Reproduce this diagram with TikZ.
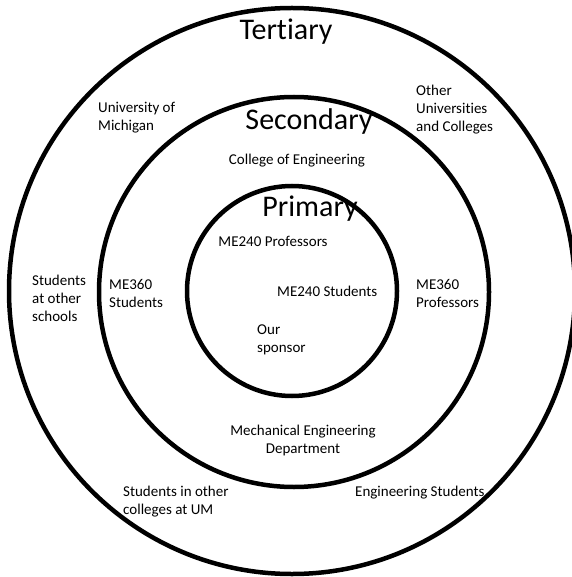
\documentclass[tikz,border=0pt]{standalone}
\usepackage{fontspec}
\setmainfont[Ligatures=NoCommon]{Carlito}
\begin{document}
\begin{tikzpicture}[x=1pt,y=-1pt,
  ring/.style={draw=black,line width=4.5pt,circle,inner sep=0pt},
  lbl/.style={inner sep=0pt,align=left,font=\fontsize{15}{18}\selectfont},
  clbl/.style={inner sep=0pt,align=center,font=\fontsize{15}{18}\selectfont},
  ttl/.style={inner sep=0pt,font=\fontsize{30}{34}\selectfont}]
\useasboundingbox (0,0) rectangle (571,577);
\node[ring,minimum size=566pt] (outer) at (292,291) {};
\node[ring,minimum size=390pt] (middle) at (294,292) {};
\node[ring,minimum size=210pt] (inner) at (292,291) {};
\node[ttl] (tert) at (286,32) {Tertiary};
\node[ttl] (sec) at (309,122) {Secondary};
\node[ttl] (prim) at (310,209) {Primary};
\node[lbl,anchor=west] (um) at (98,118) {University of\\Michigan};
\node[lbl,anchor=west] (other) at (416,110) {Other\\Universities\\and Colleges};
\node[clbl] (coe) at (297,161) {College of Engineering};
\node[clbl] (p240) at (273,241) {ME240 Professors};
\node[lbl,anchor=west] (s360) at (109,293) {ME360\\Students};
\node[lbl,anchor=west] (sos) at (32,298) {Students\\at other\\schools};
\node[lbl,anchor=west] (s240) at (277,291) {ME240 Students};
\node[lbl,anchor=west] (p360) at (416,293) {ME360\\Professors};
\node[lbl,anchor=west] (spon) at (257,340) {Our\\sponsor};
\node[clbl] (med) at (303,440) {Mechanical Engineering\\Department};
\node[lbl,anchor=west] (soc) at (123,502) {Students in other\\colleges at UM};
\node[lbl,anchor=west] (es) at (355,493) {Engineering Students};
\end{tikzpicture}
\end{document}
